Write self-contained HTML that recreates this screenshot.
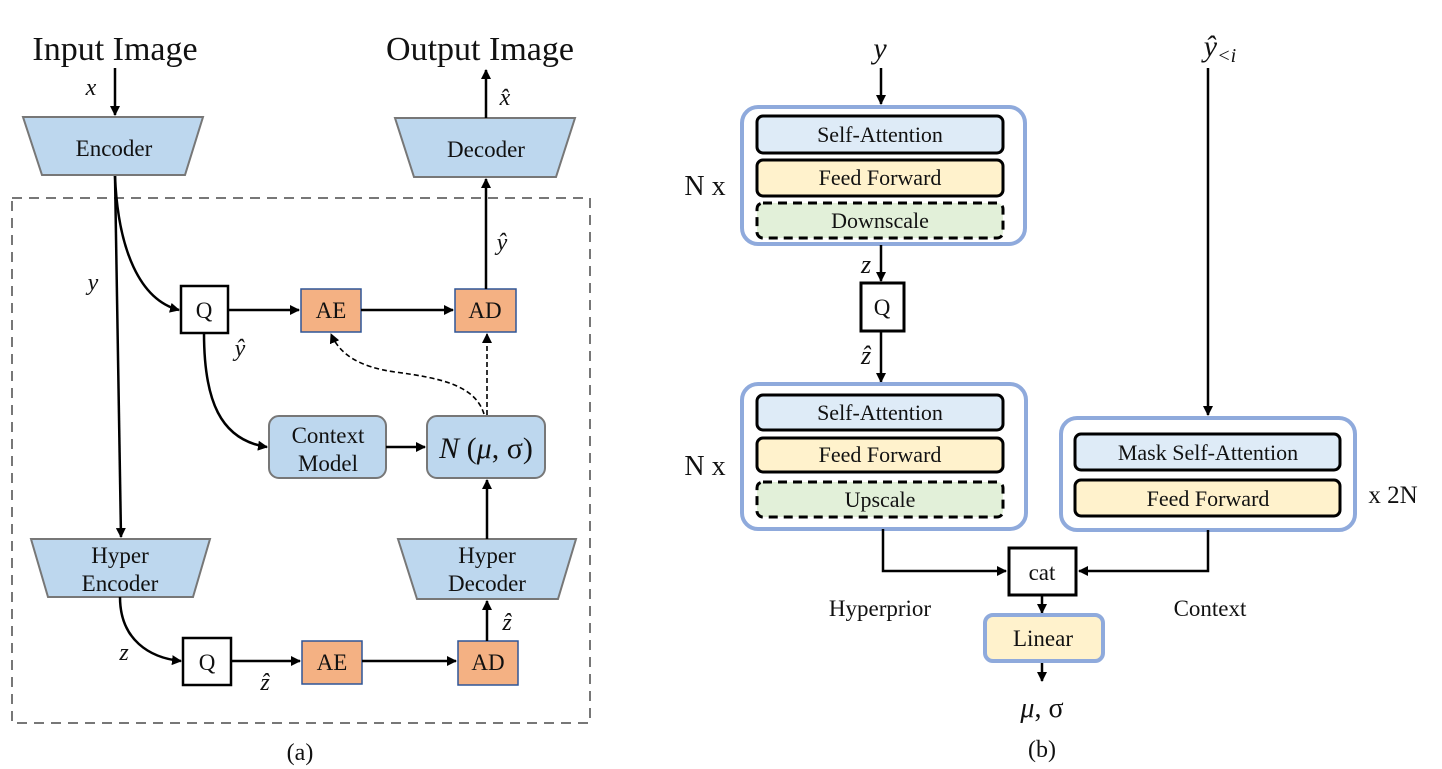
<!DOCTYPE html>
<html><head><meta charset="utf-8"><style>
html,body{margin:0;padding:0;background:#fff;}
svg{display:block;}
text{font-family:"Liberation Serif","DejaVu Serif",serif;fill:#111;}
.i{font-style:italic;}
</style></head><body>
<svg width="1442" height="769" viewBox="0 0 1442 769" xmlns="http://www.w3.org/2000/svg">
<defs>
<marker id="a" markerWidth="10" markerHeight="10" refX="9" refY="5" orient="auto" markerUnits="userSpaceOnUse"><path d="M0,0 L10,5 L0,10 z" fill="#000"/></marker>
</defs>
<!-- Left panel -->
<text x="115" y="60" font-size="34" text-anchor="middle">Input Image</text>
<text x="480" y="60" font-size="34" text-anchor="middle">Output Image</text>
<line x1="115" y1="68" x2="115" y2="115" stroke="#000" stroke-width="2.5" marker-end="url(#a)"/>
<text x="91" y="95" font-size="24" class="i" text-anchor="middle">x</text>
<polygon points="23,117 203,117 185,175 42,175" fill="#bdd7ee" stroke="#777" stroke-width="2"/>
<text x="114" y="156" font-size="23" text-anchor="middle">Encoder</text>
<polygon points="395,118 575,118 556,177 414,177" fill="#bdd7ee" stroke="#777" stroke-width="2"/>
<text x="486" y="157" font-size="23" text-anchor="middle">Decoder</text>
<line x1="486" y1="118" x2="486" y2="70" stroke="#000" stroke-width="2.5" marker-end="url(#a)"/>
<text x="505" y="105" font-size="24" class="i" text-anchor="middle">x̂</text>
<rect x="12" y="198" width="578" height="525" fill="none" stroke="#777" stroke-width="2" stroke-dasharray="10,7"/>
<!-- encoder lines -->
<line x1="115" y1="176" x2="121" y2="537" stroke="#000" stroke-width="2.5" marker-end="url(#a)"/>
<path d="M115,176 C118,250 140,300 179,310" fill="none" stroke="#000" stroke-width="2.5" marker-end="url(#a)"/>
<text x="93" y="290" font-size="24" class="i" text-anchor="middle">y</text>
<rect x="181" y="286" width="47" height="47" fill="#fff" stroke="#000" stroke-width="2.5"/>
<text x="204" y="318" font-size="23" text-anchor="middle">Q</text>
<rect x="301" y="289" width="60" height="43" fill="#f4b183" stroke="#2f5597" stroke-width="1.5"/>
<text x="331" y="318" font-size="23" text-anchor="middle">AE</text>
<rect x="455" y="289" width="61" height="43" fill="#f4b183" stroke="#2f5597" stroke-width="1.5"/>
<text x="485" y="318" font-size="23" text-anchor="middle">AD</text>
<line x1="228" y1="310" x2="299" y2="310" stroke="#000" stroke-width="2.5" marker-end="url(#a)"/>
<line x1="361" y1="310" x2="453" y2="310" stroke="#000" stroke-width="2.5" marker-end="url(#a)"/>
<line x1="486" y1="289" x2="486" y2="179" stroke="#000" stroke-width="2.5" marker-end="url(#a)"/>
<text x="502" y="250" font-size="24" class="i" text-anchor="middle">ŷ</text>
<text x="240" y="356" font-size="24" class="i" text-anchor="middle">ŷ</text>
<path d="M204,333 C204,400 220,440 267,447" fill="none" stroke="#000" stroke-width="2.5" marker-end="url(#a)"/>
<rect x="269" y="416" width="117" height="62" rx="10" fill="#bdd7ee" stroke="#777" stroke-width="2"/>
<text x="328" y="443" font-size="23" text-anchor="middle">Context</text>
<text x="328" y="471" font-size="23" text-anchor="middle">Model</text>
<rect x="427" y="416" width="118" height="62" rx="10" fill="#bdd7ee" stroke="#777" stroke-width="2"/>
<text x="486" y="458" font-size="30" text-anchor="middle"><tspan class="i">N</tspan> (<tspan class="i">μ</tspan>, σ)</text>
<line x1="386" y1="447" x2="425" y2="447" stroke="#000" stroke-width="2.5" marker-end="url(#a)"/>
<line x1="487" y1="415" x2="487" y2="334" stroke="#000" stroke-width="1.6" stroke-dasharray="5,3" marker-end="url(#a)"/>
<path d="M484,414 C475,385 440,378 395,372 C360,367 340,355 331,334" fill="none" stroke="#000" stroke-width="1.6" stroke-dasharray="5,3" marker-end="url(#a)"/>
<polygon points="31,539 210,539 193,597 48,597" fill="#bdd7ee" stroke="#777" stroke-width="2"/>
<text x="120" y="563" font-size="23" text-anchor="middle">Hyper</text>
<text x="120" y="591" font-size="23" text-anchor="middle">Encoder</text>
<polygon points="398,539 576,539 558,599 417,599" fill="#bdd7ee" stroke="#777" stroke-width="2"/>
<text x="487" y="563" font-size="23" text-anchor="middle">Hyper</text>
<text x="487" y="591" font-size="23" text-anchor="middle">Decoder</text>
<line x1="487" y1="539" x2="487" y2="480" stroke="#000" stroke-width="2.5" marker-end="url(#a)"/>
<path d="M120,597 C120,640 150,658 181,661" fill="none" stroke="#000" stroke-width="2.5" marker-end="url(#a)"/>
<text x="124" y="660" font-size="24" class="i" text-anchor="middle">z</text>
<rect x="183" y="638" width="48" height="47" fill="#fff" stroke="#000" stroke-width="2.5"/>
<text x="207" y="670" font-size="23" text-anchor="middle">Q</text>
<rect x="302" y="641" width="60" height="43" fill="#f4b183" stroke="#2f5597" stroke-width="1.5"/>
<text x="332" y="670" font-size="23" text-anchor="middle">AE</text>
<rect x="458" y="641" width="60" height="44" fill="#f4b183" stroke="#2f5597" stroke-width="1.5"/>
<text x="488" y="670" font-size="23" text-anchor="middle">AD</text>
<line x1="231" y1="661" x2="300" y2="661" stroke="#000" stroke-width="2.5" marker-end="url(#a)"/>
<line x1="362" y1="661" x2="456" y2="661" stroke="#000" stroke-width="2.5" marker-end="url(#a)"/>
<line x1="487" y1="641" x2="487" y2="601" stroke="#000" stroke-width="2.5" marker-end="url(#a)"/>
<text x="265" y="690" font-size="24" class="i" text-anchor="middle">ẑ</text>
<text x="507" y="630" font-size="24" class="i" text-anchor="middle">ẑ</text>
<text x="300" y="760" font-size="24" text-anchor="middle">(a)</text>

<!-- Right panel -->
<text x="880" y="58" font-size="30" class="i" text-anchor="middle">y</text>
<line x1="881" y1="68" x2="881" y2="104" stroke="#000" stroke-width="2.5" marker-end="url(#a)"/>
<text x="1220" y="56" font-size="30" class="i" text-anchor="middle">ŷ<tspan font-size="20" dy="6">&lt;i</tspan></text>
<line x1="1208" y1="68" x2="1208" y2="415" stroke="#000" stroke-width="2.5" marker-end="url(#a)"/>
<text x="705" y="195" font-size="28" text-anchor="middle">N x</text>
<text x="705" y="475" font-size="28" text-anchor="middle">N x</text>
<text x="1393" y="503" font-size="25" text-anchor="middle">x 2N</text>

<rect x="742" y="107" width="283" height="137" rx="16" fill="#fff" stroke="#8faadc" stroke-width="4"/>
<rect x="757" y="116" width="246" height="37" rx="6" fill="#deebf7" stroke="#000" stroke-width="3"/>
<text x="880" y="142" font-size="22" text-anchor="middle">Self-Attention</text>
<rect x="757" y="160" width="246" height="36" rx="6" fill="#fff2cc" stroke="#000" stroke-width="3"/>
<text x="880" y="185" font-size="22" text-anchor="middle">Feed Forward</text>
<rect x="757" y="203" width="246" height="35" rx="6" fill="#e2f0d9" stroke="#000" stroke-width="3" stroke-dasharray="9,6"/>
<text x="880" y="228" font-size="22" text-anchor="middle">Downscale</text>

<line x1="881" y1="245" x2="881" y2="281" stroke="#000" stroke-width="2.5" marker-end="url(#a)"/>
<text x="866" y="273" font-size="26" class="i" text-anchor="middle">z</text>
<rect x="861" y="283" width="43" height="48" fill="#fff" stroke="#000" stroke-width="3"/>
<text x="882" y="315" font-size="23" text-anchor="middle">Q</text>
<text x="866" y="364" font-size="26" class="i" text-anchor="middle">ẑ</text>
<line x1="881" y1="331" x2="881" y2="382" stroke="#000" stroke-width="2.5" marker-end="url(#a)"/>

<rect x="742" y="384" width="284" height="145" rx="16" fill="#fff" stroke="#8faadc" stroke-width="4"/>
<rect x="757" y="395" width="246" height="35" rx="6" fill="#deebf7" stroke="#000" stroke-width="3"/>
<text x="880" y="420" font-size="22" text-anchor="middle">Self-Attention</text>
<rect x="757" y="438" width="246" height="34" rx="6" fill="#fff2cc" stroke="#000" stroke-width="3"/>
<text x="880" y="462" font-size="22" text-anchor="middle">Feed Forward</text>
<rect x="757" y="482" width="246" height="35" rx="6" fill="#e2f0d9" stroke="#000" stroke-width="3" stroke-dasharray="9,6"/>
<text x="880" y="507" font-size="22" text-anchor="middle">Upscale</text>

<rect x="1061" y="418" width="294" height="112" rx="16" fill="#fff" stroke="#8faadc" stroke-width="4"/>
<rect x="1075" y="434" width="265" height="36" rx="6" fill="#deebf7" stroke="#000" stroke-width="3"/>
<text x="1208" y="460" font-size="22" text-anchor="middle">Mask Self-Attention</text>
<rect x="1075" y="480" width="265" height="36" rx="6" fill="#fff2cc" stroke="#000" stroke-width="3"/>
<text x="1208" y="506" font-size="22" text-anchor="middle">Feed Forward</text>

<polyline points="883,529 883,571 1006,571" fill="none" stroke="#000" stroke-width="2.5" marker-end="url(#a)"/>
<polyline points="1208,530 1208,571 1079,571" fill="none" stroke="#000" stroke-width="2.5" marker-end="url(#a)"/>
<rect x="1009" y="548" width="67" height="47" fill="#fff" stroke="#000" stroke-width="3"/>
<text x="1042" y="580" font-size="23" text-anchor="middle">cat</text>
<text x="880" y="616" font-size="23" text-anchor="middle">Hyperprior</text>
<text x="1210" y="616" font-size="23" text-anchor="middle">Context</text>
<line x1="1042" y1="595" x2="1042" y2="613" stroke="#000" stroke-width="2.5" marker-end="url(#a)"/>
<rect x="985" y="615" width="118" height="46" rx="8" fill="#fff2cc" stroke="#8faadc" stroke-width="4"/>
<text x="1043" y="646" font-size="23" text-anchor="middle">Linear</text>
<line x1="1042" y1="663" x2="1042" y2="681" stroke="#000" stroke-width="2.5" marker-end="url(#a)"/>
<text x="1042" y="717" font-size="28" text-anchor="middle"><tspan class="i">μ</tspan>, σ</text>
<text x="1042" y="757" font-size="24" text-anchor="middle">(b)</text>
</svg>
</body></html>
